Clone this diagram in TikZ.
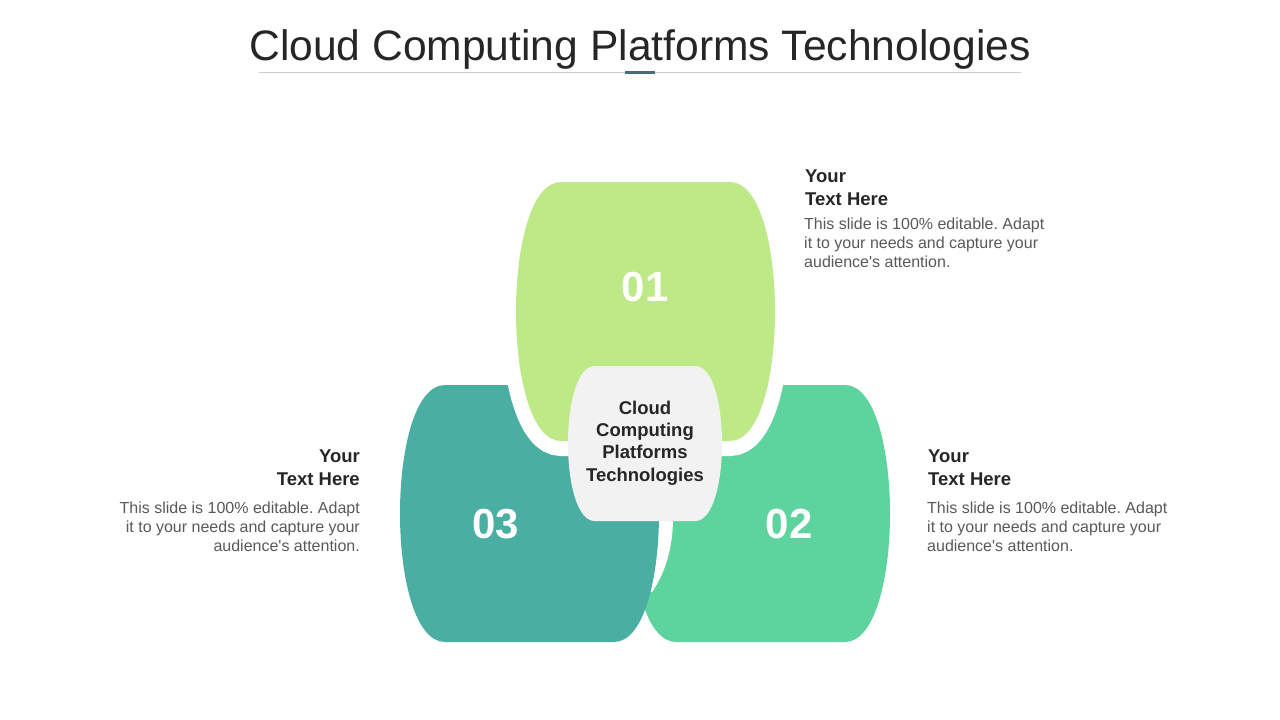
\documentclass[tikz,border=0pt]{standalone}
\usepackage{fontspec}
\setmainfont{Liberation Sans}
\frenchspacing
\usetikzlibrary{positioning}
\definecolor{leaf}{RGB}{190,233,135}
\definecolor{sea}{RGB}{74,174,163}
\definecolor{mint}{RGB}{93,211,158}
\definecolor{core}{RGB}{242,242,242}
\definecolor{ink}{RGB}{38,38,38}
\definecolor{blurbgray}{RGB}{89,89,89}
\definecolor{rulegray}{RGB}{200,205,208}
\definecolor{accent}{RGB}{74,106,122}
% barrel: x0, y0, width, height
\newcommand{\barrel}[4]{({#1+0.174*#3},#2) -- ({#1+0.826*#3},#2)
  .. controls ({#1+1.058*#3},#2) and ({#1+1.058*#3},{#2+#4}) .. ({#1+0.826*#3},{#2+#4})
  -- ({#1+0.174*#3},{#2+#4})
  .. controls ({#1-0.058*#3},{#2+#4}) and ({#1-0.058*#3},#2) .. cycle}
\newcommand{\blurbtext}{This slide is 100\% editable. Adapt\\it to your needs and capture your\\audience\textquotesingle s attention.}

\begin{document}
\begin{tikzpicture}[x=1pt,y=-1pt
  ,font=\fontsize{16}{19}\selectfont]
  \tikzstyle{num}=[text=white,font=\bfseries\fontsize{42}{50}\selectfont]
  \tikzstyle{head}=[inner sep=0pt,text=ink,font=\bfseries\fontsize{18.5}{23}\selectfont]
  \tikzstyle{blurb}=[inner sep=0pt,text=blurbgray,font=\fontsize{16}{19}\selectfont]
  \tikzstyle{gap}=[preaction={draw=white,line width=30pt}]

  \useasboundingbox[fill=white] (0,0) rectangle (1280,720);

  \node[anchor=base,text=ink,font=\fontsize{42.6}{50}\selectfont]
    (title) at (640,60) {Cloud Computing Platforms Technologies};
  \coordinate (ruleL) at (259,72);
  \coordinate (ruleR) at (1021,72);
  \draw[rulegray,line width=1pt] (ruleL) -- (ruleR);
  \fill[accent] (625,70.5) rectangle (655,73.5);

  \fill[mint] \barrel{631}{385}{259}{257};
  \fill[white] (640,518) -- (673,518)
    .. controls (673,550) and (664,575) .. (652,592) -- (640,592) -- cycle;
  \fill[sea] \barrel{400}{385}{259}{257};
  \fill[leaf,gap] \barrel{516}{182}{259}{259};
  \fill[core] \barrel{568}{366}{154}{155};

  \node[num] (n1) at (645,287) {01};
  \node[num] (n2) at (789,524) {02};
  \node[num] (n3) at (496,524) {03};
  \node[align=center,text=ink,font=\bfseries\fontsize{18.5}{22.3}\selectfont]
    (hub) at (645,443) {Cloud\\Computing\\Platforms\\Technologies};

  \node[head,anchor=north west,align=left] (h1) at (805,170) {Your\\Text Here};
  \node[blurb,anchor=north west,align=left] (b1) at (804,218) {\blurbtext};
  \node[head,anchor=north west,align=left] (h2) at (928,450) {Your\\Text Here};
  \node[blurb,anchor=north west,align=left] (b2) at (927,501.5) {\blurbtext};
  \node[head,anchor=north east,align=right] (h3) at (360,450) {Your\\Text Here};
  \node[blurb,anchor=north east,align=right] (b3) at (360,501.5) {\blurbtext};
\end{tikzpicture}
\end{document}
